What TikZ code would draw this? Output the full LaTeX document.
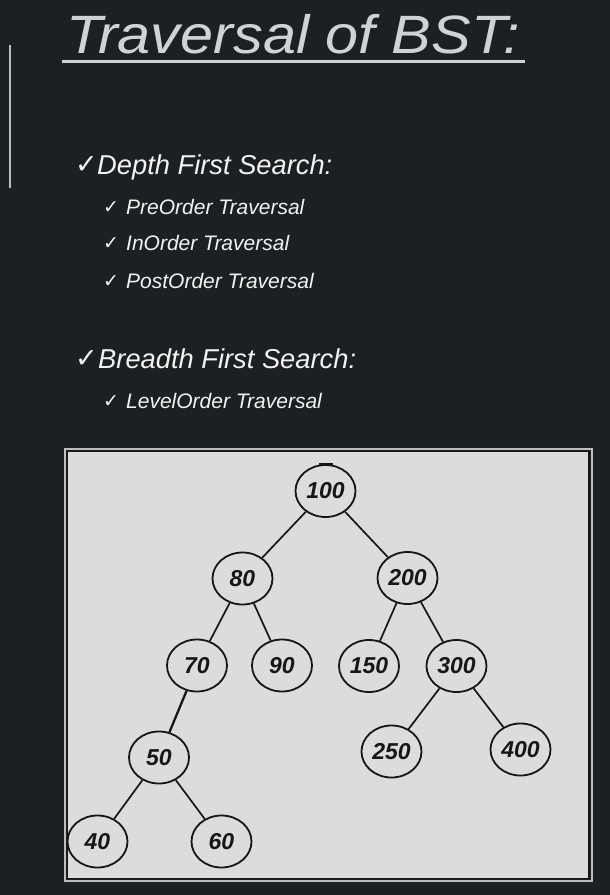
\documentclass[tikz,border=0pt]{standalone}
\usepackage{fontspec}
\setmainfont{Liberation Sans}
\newfontfamily\chk{DejaVu Sans}
\newfontfamily\numfont{Liberation Sans Bold Italic}
\usetikzlibrary{shapes.geometric}
\definecolor{bg}{HTML}{1D2022}
\definecolor{titlec}{HTML}{D0D2D4}
\definecolor{txt}{HTML}{F2F2F2}
\definecolor{boxfill}{HTML}{DCDDDB}
\definecolor{boxlight}{HTML}{BDBDBD}
\definecolor{ink}{HTML}{161616}
\tikzset{
  txtnode/.style={anchor=base west, inner sep=0pt, text=txt},
  headfont/.style={font=\itshape\fontsize{27.3}{30}\selectfont},
  subfont/.style={font=\itshape\fontsize{21}{24}\selectfont},
  bignode/.style={font=\chk\fontsize{27}{30}\selectfont},
  smallchk/.style={font=\chk\fontsize{19}{22}\selectfont},
  tnode/.style={ellipse, draw=ink, line width=1.8pt, minimum width=60pt, minimum height=52pt,
    inner sep=0pt, text=ink, font=\numfont\fontsize{23}{26}\selectfont},
  tedge/.style={draw=ink, line width=1.7pt}
}
\begin{document}
\begin{tikzpicture}[x=1pt,y=-1pt]
\fill[bg] (0,0) rectangle (610,895);
\useasboundingbox (0,0) rectangle (610,895);
% left bar
\draw[boxlight, line width=2.5pt] (10,45) -- (10,188);
% title
\node[anchor=base west, inner sep=0pt, text=titlec, font=\itshape\fontsize{54}{60}\selectfont] (title) at (66,53.3) {\scalebox{1.1}[1]{Traversal of BST:}};
\coordinate (ulA) at (62,61.5);
\coordinate (ulB) at (525,61.5);
\draw[titlec, line width=3pt] (ulA) -- (ulB);
% list
\node[txtnode, bignode] (c1) at (75,173) {✓};
\node[txtnode, headfont] (h1) at (97,174) {Depth First Search:};
\node[txtnode, smallchk] (c11) at (103,213.5) {✓};
\node[txtnode, subfont] (s11) at (126,214.5) {PreOrder Traversal};
\node[txtnode, smallchk] (c12) at (103,249.5) {✓};
\node[txtnode, subfont] (s12) at (126,250.5) {InOrder Traversal};
\node[txtnode, smallchk] (c13) at (103,287.5) {✓};
\node[txtnode, subfont] (s13) at (126,288.5) {PostOrder Traversal};
\node[txtnode, bignode] (c2) at (75,367) {✓};
\node[txtnode, headfont] (h2) at (98,368) {Breadth First Search:};
\node[txtnode, smallchk] (c21) at (103,407.5) {✓};
\node[txtnode, subfont] (s21) at (126,408.5) {LevelOrder Traversal};
% box
\draw[boxlight, line width=2pt] (64.5,448.5) rectangle (592,881);
\draw[ink, fill=boxfill, line width=1.8pt] (67.5,451.5) rectangle (589,878.5);
% tree
\node[tnode] (n100) at (325.5,491) {100};
\node[tnode] (n80) at (242.5,578.5) {80};
\node[tnode] (n200) at (407.5,578) {200};
\node[tnode] (n70) at (197,665.5) {70};
\node[tnode] (n90) at (282,665.5) {90};
\node[tnode] (n150) at (369,666) {150};
\node[tnode] (n300) at (456.5,666) {300};
\node[tnode] (n50) at (159,757.5) {50};
\node[tnode] (n250) at (391.5,751.5) {250};
\node[tnode] (n400) at (520.5,749.5) {400};
\node[tnode] (n40) at (97.5,841.5) {40};
\node[tnode] (n60) at (221.5,841.5) {60};
\draw[ink, line width=2.5pt] ([xshift=-7pt]n100.north) -- ([xshift=7pt]n100.north);
\draw[tedge] (n100) -- (n80);
\draw[tedge] (n100) -- (n200);
\draw[tedge] (n80) -- (n70);
\draw[tedge] (n80) -- (n90);
\draw[tedge] (n200) -- (n150);
\draw[tedge] (n200) -- (n300);
\draw[tedge, line width=2.3pt] (n70) -- (n50);
\draw[tedge] (n300) -- (n250);
\draw[tedge] (n300) -- (n400);
\draw[tedge] (n50) -- (n40);
\draw[tedge] (n50) -- (n60);
\end{tikzpicture}
\end{document}
